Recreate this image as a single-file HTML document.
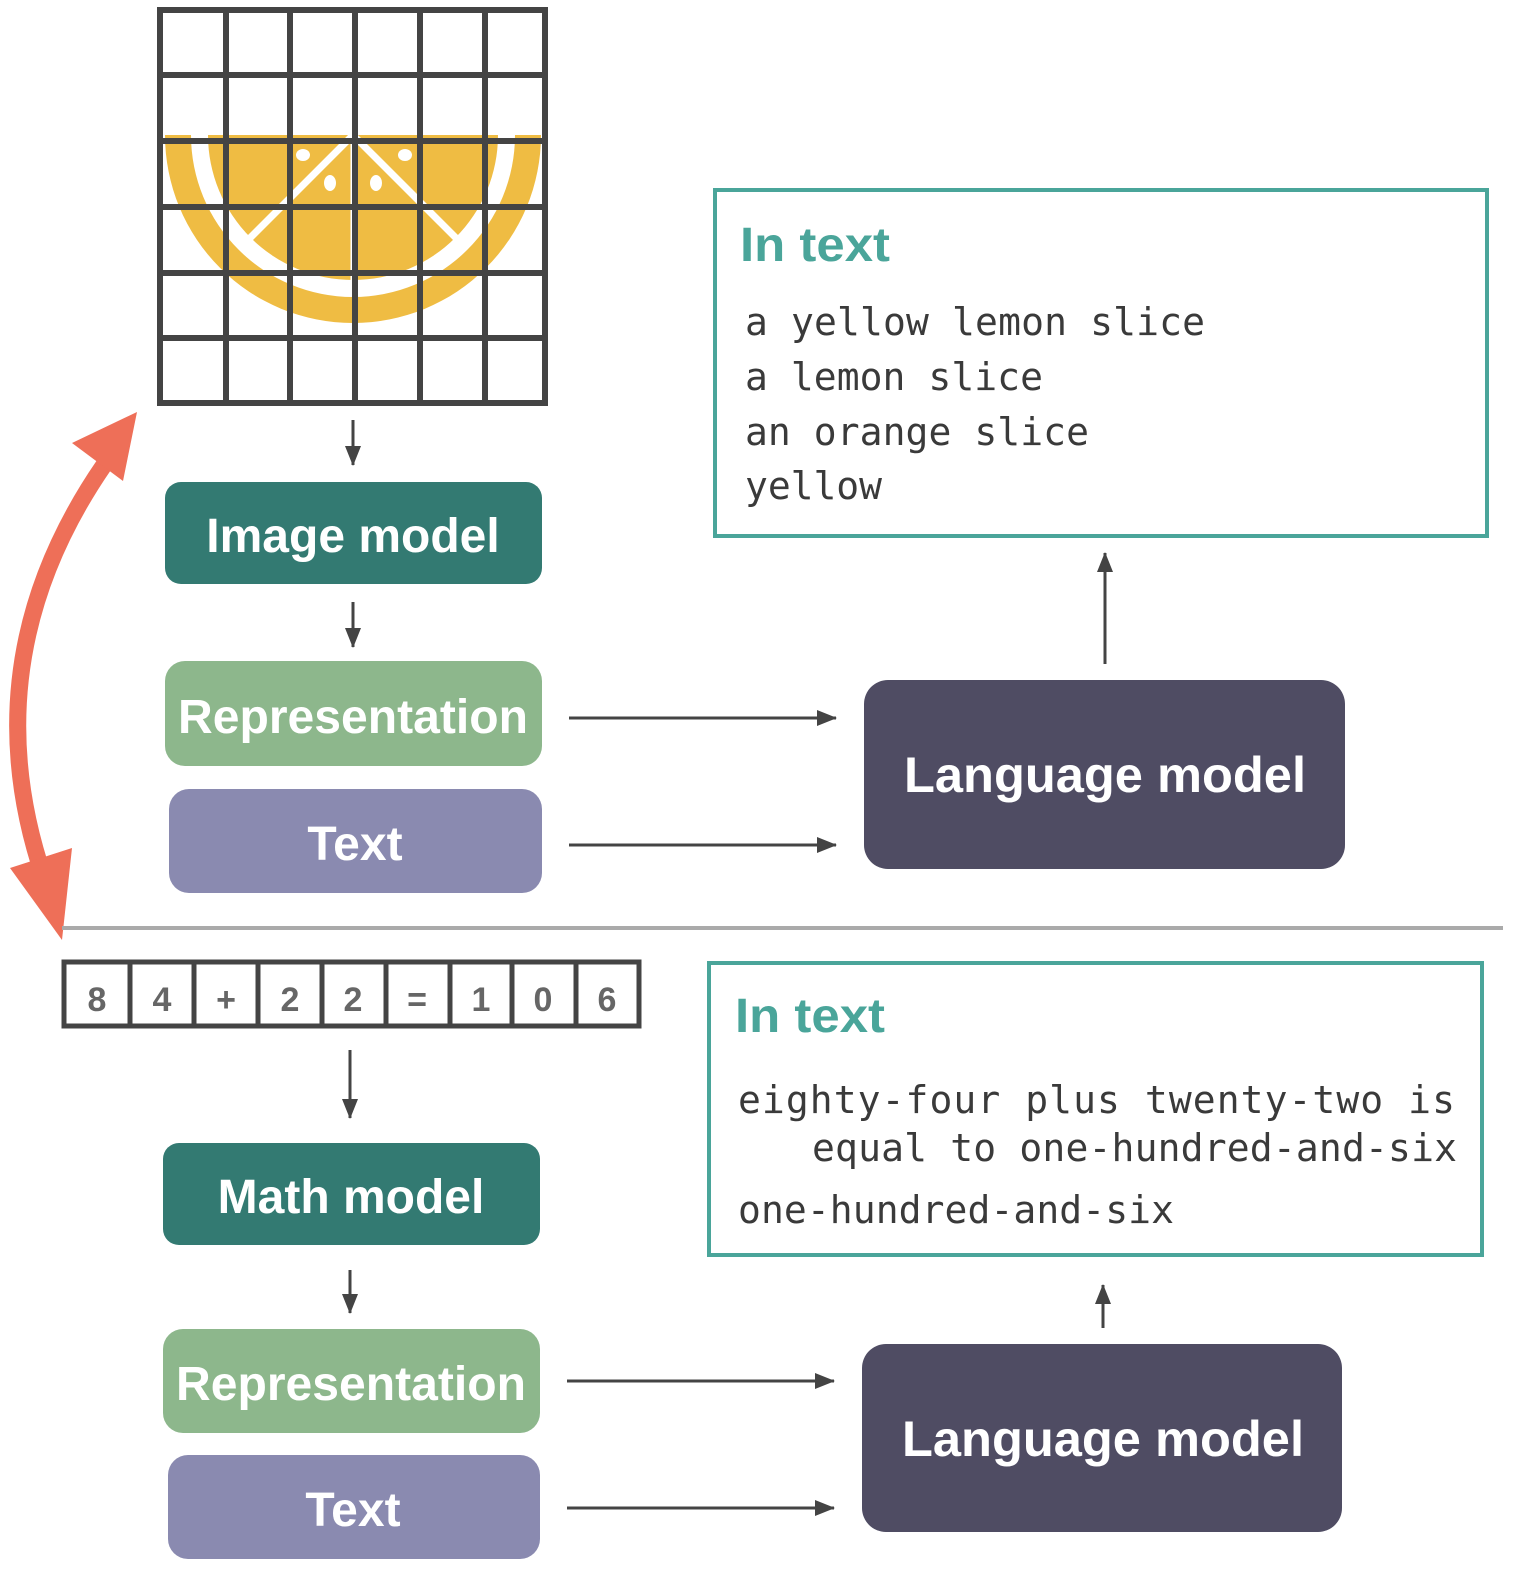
<!DOCTYPE html>
<html><head><meta charset="utf-8"><style>html,body{margin:0;padding:0;background:#fff;overflow:hidden;width:1522px;height:1584px}svg{display:block}</style></head>
<body>
<svg width="1522" height="1584" viewBox="0 0 1522 1584" xmlns="http://www.w3.org/2000/svg">
<defs>
<marker id="ah" markerWidth="20" markerHeight="16" refX="19" refY="8" orient="auto" markerUnits="userSpaceOnUse">
<path d="M0,0 L20,8 L0,16 Z" fill="#444"/></marker>
<clipPath id="half"><rect x="160" y="135" width="390" height="200"/></clipPath>
</defs>
<!-- lemon -->
<g clip-path="url(#half)">
<circle cx="353" cy="135" r="188" fill="#efbc43"/>
<circle cx="353" cy="135" r="162" fill="#fff"/>
<circle cx="353" cy="135" r="145" fill="#efbc43"/>
<line x1="353" y1="135" x2="353" y2="290" stroke="#fff" stroke-width="5"/>
<line x1="353" y1="135" x2="240" y2="248" stroke="#fff" stroke-width="7"/>
<line x1="353" y1="135" x2="466" y2="248" stroke="#fff" stroke-width="7"/>
</g>
<g fill="#fff"><ellipse cx="303" cy="155" rx="7" ry="6"/><ellipse cx="330" cy="183" rx="6" ry="8"/><ellipse cx="376" cy="183" rx="6" ry="8"/><ellipse cx="405" cy="155" rx="7" ry="6"/></g>
<!-- grid -->
<g stroke="#444" stroke-width="6" fill="none">
<rect x="160" y="10" width="385" height="393"/>
<line x1="226" y1="10" x2="226" y2="403"/><line x1="290" y1="10" x2="290" y2="403"/><line x1="355" y1="10" x2="355" y2="403"/><line x1="420" y1="10" x2="420" y2="403"/><line x1="485" y1="10" x2="485" y2="403"/>
<line x1="160" y1="75" x2="545" y2="75"/><line x1="160" y1="141" x2="545" y2="141"/><line x1="160" y1="207" x2="545" y2="207"/><line x1="160" y1="273" x2="545" y2="273"/><line x1="160" y1="338" x2="545" y2="338"/>
</g>
<!-- orange arrow -->
<path d="M104,465 Q-30,660 44,878" stroke="#ee6f58" stroke-width="17" fill="none"/>
<path d="M137,412 L72,443 L123,481 Z" fill="#ee6f58"/>
<path d="M62,940 L10,868 L72,848 Z" fill="#ee6f58"/>
<line x1="62" y1="928" x2="1503" y2="928" stroke="#aaa" stroke-width="4"/>

<g stroke="#444" stroke-width="3" fill="none" marker-end="url(#ah)">
<line x1="353" y1="420" x2="353" y2="465"/>
<line x1="353" y1="602" x2="353" y2="647"/>
<line x1="569" y1="718" x2="836" y2="718"/>
<line x1="569" y1="845" x2="836" y2="845"/>
<line x1="1105" y1="664" x2="1105" y2="553"/>
<line x1="350" y1="1050" x2="350" y2="1118"/>
<line x1="350" y1="1270" x2="350" y2="1313"/>
<line x1="567" y1="1381" x2="834" y2="1381"/>
<line x1="567" y1="1508" x2="834" y2="1508"/>
<line x1="1103" y1="1328" x2="1103" y2="1285"/>
</g>

<g font-family="Liberation Sans, sans-serif" font-weight="bold" fill="#fff" text-anchor="middle">
<rect x="165" y="482" width="377" height="102" rx="16" fill="#337a72"/>
<text x="353" y="552" font-size="48">Image model</text>
<rect x="165" y="661" width="377" height="105" rx="20" fill="#8db78c"/>
<text x="353" y="733" font-size="48" textLength="350" lengthAdjust="spacingAndGlyphs">Representation</text>
<rect x="169" y="789" width="373" height="104" rx="20" fill="#8a8ab0"/>
<text x="355" y="860" font-size="48">Text</text>
<rect x="864" y="680" width="481" height="189" rx="24" fill="#4f4c63"/>
<text x="1105" y="792" font-size="50" textLength="402" lengthAdjust="spacingAndGlyphs">Language model</text>

<rect x="163" y="1143" width="377" height="102" rx="16" fill="#337a72"/>
<text x="351" y="1213" font-size="48">Math model</text>
<rect x="163" y="1329" width="377" height="104" rx="20" fill="#8db78c"/>
<text x="351" y="1400" font-size="48" textLength="350" lengthAdjust="spacingAndGlyphs">Representation</text>
<rect x="168" y="1455" width="372" height="104" rx="20" fill="#8a8ab0"/>
<text x="353" y="1526" font-size="48">Text</text>
<rect x="862" y="1344" width="480" height="188" rx="24" fill="#4f4c63"/>
<text x="1103" y="1456" font-size="50" textLength="402" lengthAdjust="spacingAndGlyphs">Language model</text>
</g>

<!-- digits -->
<g stroke="#444" stroke-width="5" fill="none">
<rect x="64" y="962" width="575" height="64"/>
<line x1="130" y1="962" x2="130" y2="1026"/><line x1="194" y1="962" x2="194" y2="1026"/><line x1="258" y1="962" x2="258" y2="1026"/><line x1="322" y1="962" x2="322" y2="1026"/><line x1="386" y1="962" x2="386" y2="1026"/><line x1="450" y1="962" x2="450" y2="1026"/><line x1="512" y1="962" x2="512" y2="1026"/><line x1="576" y1="962" x2="576" y2="1026"/>
</g>
<g font-family="Liberation Sans, sans-serif" font-weight="bold" fill="#666" font-size="34" text-anchor="middle">
<text x="97" y="1011">8</text><text x="162" y="1011">4</text><text x="226" y="1011">+</text><text x="290" y="1011">2</text><text x="353" y="1011">2</text><text x="417" y="1011">=</text><text x="481" y="1011">1</text><text x="543" y="1011">0</text><text x="607" y="1011">6</text>
</g>

<!-- text boxes -->
<rect x="715" y="190" width="772" height="346" fill="none" stroke="#4aa59a" stroke-width="4"/>
<rect x="709" y="963" width="773" height="292" fill="none" stroke="#4aa59a" stroke-width="4"/>
<g font-family="Liberation Sans, sans-serif" font-weight="bold" fill="#4aa59a" font-size="48">
<text x="740" y="261" textLength="150" lengthAdjust="spacingAndGlyphs">In text</text>
<text x="735" y="1032" textLength="150" lengthAdjust="spacingAndGlyphs">In text</text>
</g>
<g font-family="DejaVu Sans Mono, Liberation Mono, monospace" fill="#3a3a3a" font-size="38">
<text x="745" y="335" textLength="460">a yellow lemon slice</text>
<text x="745" y="390" textLength="298">a lemon slice</text>
<text x="745" y="445" textLength="344">an orange slice</text>
<text x="745" y="499" textLength="137">yellow</text>
<text x="738" y="1113" textLength="717">eighty-four plus twenty-two is</text>
<text x="812" y="1161" textLength="645">equal to one-hundred-and-six</text>
<text x="738" y="1223" textLength="436">one-hundred-and-six</text>
</g>
</svg>
</body></html>
